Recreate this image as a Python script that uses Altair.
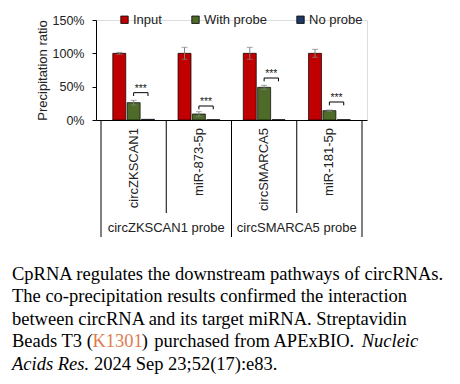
import altair as alt
import pandas as pd

# ---- data ----
targets = ["circZKSCAN1", "miR-873-5p", "circSMARCA5", "miR-181-5p"]
probes = ["circZKSCAN1 probe", "circSMARCA5 probe"]
series = ["Input", "With probe", "No probe"]
colors = ["#C00000", "#4E6B2A", "#1F3864"]

input_vals = [100, 100, 100, 100]
input_err = [1.5, 9, 9, 6]
probe_vals = [26, 9, 49, 14]
probe_err = [3.5, 3.5, 3, 1]
noprobe_vals = [1.0, 0.5, 0.5, 0.5]
noprobe_err = [0, 0, 0, 0]
bracket_level = [41, 21, 63, 27]
sig_text = ["***", "***", "***", "***"]
y_ticks = [0, 50, 100, 150]

caption_lines = [
    "CpRNA regulates the downstream pathways of circRNAs.",
    "The co-precipitation results confirmed the interaction",
    "between circRNA and its target miRNA. Streptavidin",
]
caption_l4 = ["Beads T3 (", "K1301", ")", "purchased from APExBIO.", "Nucleic"]
caption_l5 = ["Acids Res.", "2024 Sep 23;52(17):e83."]

# ---- layout constants ----
offsets = {"Input": 0.28, "With probe": 0.50, "No probe": 0.72}
W, H = 271, 100
FONT = "Liberation Sans"
SERIF = "Liberation Serif"
FS = 13

rows = []
for gi, t in enumerate(targets):
    for s, vals, errs in [("Input", input_vals, input_err),
                          ("With probe", probe_vals, probe_err),
                          ("No probe", noprobe_vals, noprobe_err)]:
        v, e = vals[gi], errs[gi]
        rows.append({"target": t, "series": s, "pos": gi + offsets[s],
                     "value": v, "lo": v - e, "hi": v + e, "err": e})
df = pd.DataFrame(rows)
df_err = df[df["err"] > 0]

br = pd.DataFrame({
    "x1": [i + offsets["With probe"] for i in range(4)],
    "x2": [i + offsets["No probe"] for i in range(4)],
    "xm": [i + (offsets["With probe"] + offsets["No probe"]) / 2 for i in range(4)],
    "level": bracket_level,
    "low": [b - 5 for b in bracket_level],
    "txt": sig_text,
})

xscale = alt.Scale(domain=[0, 4], nice=False, zero=False)
yscale = alt.Scale(domain=[0, 150], nice=False)

def X(f):
    return alt.X(f, scale=xscale, axis=None)

def Y(f):
    return alt.Y(f, scale=yscale, axis=None)

base = alt.Chart(df)

bars = base.mark_bar(size=13, stroke="black", strokeWidth=0.7).encode(
    x=alt.X("pos:Q", scale=xscale,
            axis=alt.Axis(labels=False, ticks=False, title=None, grid=False,
                          domainColor="black", domainWidth=1)),
    y=alt.Y("value:Q", scale=yscale,
            axis=alt.Axis(values=y_ticks, labelExpr="datum.value + '%'",
                          title="Precipitation ratio", grid=False, labelOverlap=False,
                          labelFlush=False,
                          domainColor="black", tickColor="black", tickSize=4,
                          labelPadding=8, labelFont=FONT, labelFontSize=12.5,
                          labelColor="#222", titleFont=FONT, titleFontSize=FS,
                          titleFontWeight="normal", titleColor="#222",
                          titlePadding=3)),
    color=alt.Color("series:N", scale=alt.Scale(domain=series, range=colors),
                    legend=alt.Legend(title=None, orient="none", direction="horizontal",
                                      legendX=22, legendY=-7, symbolType="square",
                                      symbolSize=55, symbolStrokeColor="black",
                                      symbolStrokeWidth=0.8, labelFont=FONT,
                                      labelFontSize=FS, labelColor="#222",
                                      columnPadding=27, symbolOffset=0, padding=0,
                                      labelOffset=2)),
)

err_rule = alt.Chart(df_err).mark_rule(color="#808080", strokeWidth=1).encode(
    x=X("pos:Q"), y=Y("lo:Q"), y2="hi:Q")
err_cap_hi = alt.Chart(df_err).mark_tick(color="#808080", orient="horizontal",
                                         size=6, thickness=1).encode(x=X("pos:Q"), y=Y("hi:Q"))
err_cap_lo = alt.Chart(df_err).mark_tick(color="#808080", orient="horizontal",
                                         size=6, thickness=1).encode(x=X("pos:Q"), y=Y("lo:Q"))

bchart = alt.Chart(br)
br_h = bchart.mark_rule(color="black", strokeWidth=1).encode(
    x=X("x1:Q"), x2="x2:Q", y=Y("level:Q"))
br_l = bchart.mark_rule(color="black", strokeWidth=1).encode(
    x=X("x1:Q"), y=Y("level:Q"), y2="low:Q")
br_r = bchart.mark_rule(color="black", strokeWidth=1).encode(
    x=X("x2:Q"), y=Y("level:Q"), y2="low:Q")
br_t = bchart.mark_text(font=FONT, fontSize=10.5, baseline="bottom", dy=1,
                        color="#222").encode(x=X("xm:Q"), y=Y("level:Q"), text="txt:N")

# separators below axis
sep_long = alt.Chart(pd.DataFrame({"p": [0, 2, 4]})).mark_rule(
    color="black", strokeWidth=1).encode(x=X("p:Q"), y=alt.value(H), y2=alt.value(217))
sep_short = alt.Chart(pd.DataFrame({"p": [1, 3]})).mark_rule(
    color="black", strokeWidth=1).encode(x=X("p:Q"), y=alt.value(H), y2=alt.value(193))

cat_df = pd.DataFrame({"t": targets, "p": [i + 0.5 for i in range(4)]})
cat_txt = alt.Chart(cat_df).mark_text(font=FONT, fontSize=FS, angle=270, align="right",
                                      baseline="middle", color="#222").encode(
    x=X("p:Q"), y=alt.value(108), text="t:N")

probe_df = pd.DataFrame({"t": probes, "p": [1, 3]})
probe_txt = alt.Chart(probe_df).mark_text(font=FONT, fontSize=FS, baseline="middle",
                                          color="#222").encode(
    x=X("p:Q"), y=alt.value(208), text="t:N")

# caption
cap_layers = []
CX = -84
ys = [259.5 + 22.5 * i for i in range(5)]
def seg(text, x, y, color="black", style="normal"):
    return alt.Chart(pd.DataFrame({"t": [text]})).mark_text(
        font=SERIF, fontSize=18.5, align="left", baseline="alphabetic",
        color=color, fontStyle=style).encode(
        x=alt.value(x), y=alt.value(y), text="t:N")

for i, line in enumerate(caption_lines):
    cap_layers.append(seg(line, CX, ys[i]))
l4x = [CX, -3.5, 45.7, 58.3, 265.7]
l4c = ["black", "#E07B4F", "black", "black", "black"]
l4s = ["normal", "normal", "normal", "normal", "italic"]
for t, x, c, s in zip(caption_l4, l4x, l4c, l4s):
    cap_layers.append(seg(t, x, ys[3], c, s))
l5x = [CX, -2]
l5s = ["italic", "normal"]
for t, x, s in zip(caption_l5, l5x, l5s):
    cap_layers.append(seg(t, x, ys[4], "black", s))

chart = alt.layer(
    bars, err_rule, err_cap_hi, err_cap_lo, br_h, br_l, br_r, br_t,
    sep_long, sep_short, cat_txt, probe_txt, *cap_layers
).resolve_axis(x="independent", y="independent").properties(
    width=W, height=H,
    padding={"left": 88, "top": 12, "right": 85, "bottom": 256},
    autosize=alt.AutoSizeParams(type="none"),
).configure_view(strokeWidth=0).configure(background="white")

chart.save("out.html", embed_options={"renderer": "svg", "actions": False})
